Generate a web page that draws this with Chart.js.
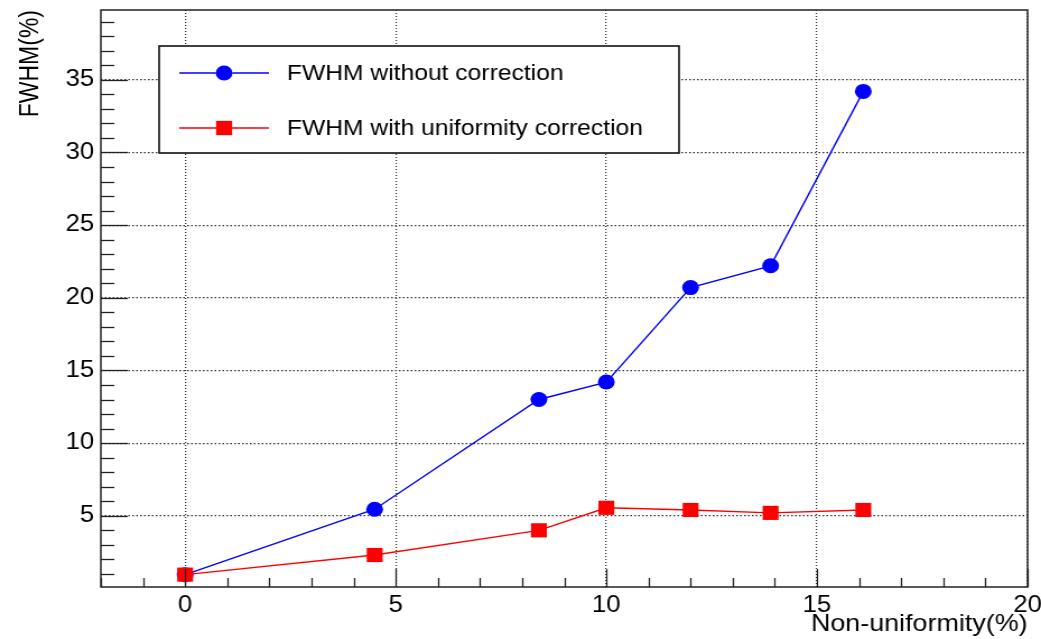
<!DOCTYPE html>
<html>
<head>
<meta charset="utf-8">
<title>FWHM vs non-uniformity</title>
<script src="https://cdn.jsdelivr.net/npm/chart.js@4.4.0/dist/chart.umd.min.js"></script>
<style>
    html, body { margin: 0; padding: 0; background: #fff; }
</style>
</head>
<body>
<!-- the original plot is a little stretched sideways, so the canvas is too -->
<canvas id="chart" width="929" height="639" style="display:block;width:1041px;height:639px;"></canvas>
<script>
// ============================================================================
// Data
// ============================================================================

const nonUniformity = [0, 4.5, 8.4, 10, 12, 13.9, 16.1];
const fwhmWithout = [0.95, 5.45, 13.0, 14.2, 20.7, 22.2, 34.2];
const fwhmCorrected = [0.95, 2.3, 4.0, 5.55, 5.4, 5.2, 5.4];

const xTicks = [0, 5, 10, 15, 20];
const yTicks = [5, 10, 15, 20, 25, 30, 35];

const seriesLabels = ['FWHM without correction', 'FWHM with uniformity correction'];
const xTitle = 'Non-uniformity(%)';
const yTitle = 'FWHM(%)';

const FONT = '"Liberation Sans", Arial, sans-serif';

function toPoints(values) {
    return nonUniformity.map((x, i) => ({ x: x, y: values[i] }));
}

// ============================================================================
// ROOT-like frame: inward ticks, titles, boxed legend
// ============================================================================

const rootStyle = {
    id: 'rootStyle',
    afterDatasetsDraw(chart) {
        const ctx = chart.ctx;
        const area = chart.chartArea;
        const xs = chart.scales.x;
        const ys = chart.scales.y;

        ctx.save();
        ctx.strokeStyle = '#222';
        ctx.lineWidth = 1.3;

        // y ticks (major every 5, minor every 1)
        for (let v = Math.ceil(ys.min); v <= ys.max; v++) {
            const py = Math.round(ys.getPixelForValue(v)) + 0.5;
            const len = v % 5 === 0 ? 24 : 12;
            ctx.beginPath();
            ctx.moveTo(area.left, py);
            ctx.lineTo(area.left + len, py);
            ctx.stroke();
        }
        // x ticks
        for (let v = Math.ceil(xs.min); v <= xs.max; v++) {
            const px = Math.round(xs.getPixelForValue(v)) + 0.5;
            const len = v % 5 === 0 ? 18 : 9;
            ctx.beginPath();
            ctx.moveTo(px, area.bottom);
            ctx.lineTo(px, area.bottom - len);
            ctx.stroke();
        }

        // frame
        ctx.lineWidth = 1.5;
        ctx.strokeRect(area.left, area.top, area.right - area.left, area.bottom - area.top);

        // axis titles
        ctx.fillStyle = '#000';
        ctx.font = '24px ' + FONT;
        ctx.textAlign = 'right';
        ctx.textBaseline = 'alphabetic';
        ctx.fillText(xTitle, area.right, 631);

        ctx.save();
        ctx.font = '23px ' + FONT;
        ctx.translate(28, area.top);
        ctx.rotate(-Math.PI / 2);
        ctx.textAlign = 'right';
        ctx.textBaseline = 'middle';
        ctx.fillText(yTitle, 0, 0);
        ctx.restore();

        // legend box
        const box = { left: 142, top: 46, right: 606, bottom: 153 };
        ctx.fillStyle = '#fff';
        ctx.fillRect(box.left, box.top, box.right - box.left, box.bottom - box.top);
        ctx.strokeStyle = '#111';
        ctx.lineWidth = 1.6;
        ctx.strokeRect(box.left, box.top, box.right - box.left, box.bottom - box.top);

        const rows = [73, 128];
        chart.data.datasets.forEach((ds, i) => {
            const y = rows[i];
            ctx.strokeStyle = ds.borderColor;
            ctx.lineWidth = ds.borderWidth;
            ctx.beginPath();
            ctx.moveTo(160, y);
            ctx.lineTo(240, y);
            ctx.stroke();
            Chart.helpers.drawPoint(ctx, {
                pointStyle: ds.pointStyle,
                radius: ds.pointRadius,
                borderWidth: 0
            }, 200, y);
            ctx.fillStyle = ds.backgroundColor;
            ctx.fill();

            ctx.fillStyle = '#000';
            ctx.font = '22px ' + FONT;
            ctx.textAlign = 'left';
            ctx.textBaseline = 'middle';
            ctx.fillText(ds.label, 256, y + 1);
        });

        ctx.restore();
    }
};

// ============================================================================
// Chart
// ============================================================================

const ctx = document.getElementById('chart').getContext('2d');
new Chart(ctx, {
    type: 'scatter',
    data: {
        datasets: [
            {
                label: seriesLabels[0],
                data: toPoints(fwhmWithout),
                showLine: true,
                borderColor: '#0000ff',
                backgroundColor: '#0000ff',
                borderWidth: 1.4,
                pointStyle: 'circle',
                pointRadius: 7.5,
                pointHoverRadius: 7.5,
                pointBorderWidth: 0,
                order: 2
            },
            {
                label: seriesLabels[1],
                data: toPoints(fwhmCorrected),
                showLine: true,
                borderColor: '#ff0000',
                backgroundColor: '#ff0000',
                borderWidth: 1.4,
                pointStyle: 'rect',
                pointRadius: 10,
                pointHoverRadius: 10,
                pointBorderWidth: 0,
                order: 1
            }
        ]
    },
    options: {
        responsive: false,
        animation: false,
        devicePixelRatio: 1,
        layout: { padding: { left: 0, right: 12, top: 10, bottom: 0 } },
        plugins: {
            legend: { display: false },
            tooltip: { enabled: false }
        },
        scales: {
            x: {
                type: 'linear',
                min: -2,
                max: 20,
                afterBuildTicks: scale => { scale.ticks = xTicks.map(v => ({ value: v })); },
                afterFit: scale => {
                    scale.height = 52;
                    scale.paddingLeft = 0;
                    scale.paddingRight = 0;
                },
                grid: { color: '#333', lineWidth: 1.2, drawTicks: false },
                border: { display: false, dash: [1, 2] },
                ticks: {
                    color: '#000',
                    font: { family: FONT, size: 23 },
                    padding: 5,
                    maxRotation: 0,
                    autoSkip: false
                }
            },
            y: {
                type: 'linear',
                min: 0.1,
                max: 39.8,
                afterBuildTicks: scale => { scale.ticks = yTicks.map(v => ({ value: v })); },
                afterFit: scale => {
                    scale.width = 90;
                    scale.paddingTop = 0;
                    scale.paddingBottom = 0;
                },
                grid: { color: '#333', lineWidth: 1.2, drawTicks: false },
                border: { display: false, dash: [1.5, 2] },
                ticks: {
                    color: '#000',
                    font: { family: FONT, size: 23 },
                    padding: 6
                }
            }
        }
    },
    plugins: [rootStyle]
});
</script>
</body>
</html>
